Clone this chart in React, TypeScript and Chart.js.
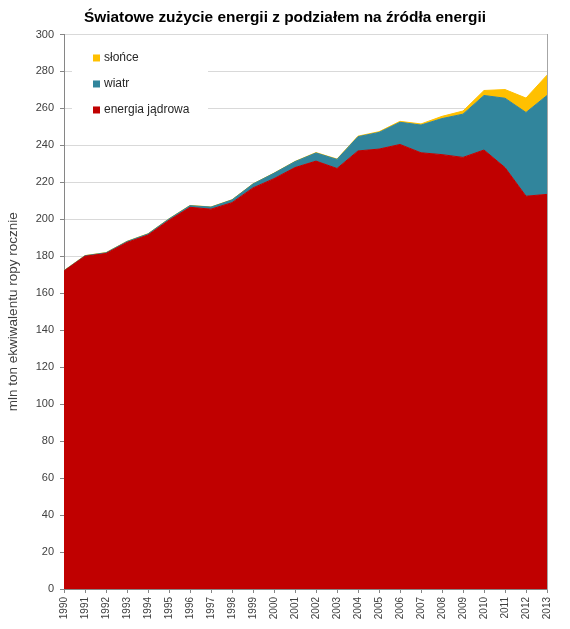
import React, { useEffect, useRef } from "react";
import { Chart, registerables } from "chart.js";

Chart.register(...registerables);

const years = [
  "1990", "1991", "1992", "1993", "1994", "1995", "1996", "1997",
  "1998", "1999", "2000", "2001", "2002", "2003", "2004", "2005",
  "2006", "2007", "2008", "2009", "2010", "2011", "2012", "2013",
];

// mln toe per year
const nuclear = [
  172, 180, 181.5, 187.5, 191.5, 199.5, 206.5, 205.5, 209, 217, 222, 228,
  231.5, 227.5, 237, 238, 240.5, 236, 235, 233.5, 237.5, 228, 212.5, 213.5,
];
const wind = [
  0.2, 0.3, 0.4, 0.5, 0.6, 0.7, 0.9, 1.1, 1.5, 2.1, 2.9, 3.2,
  4.4, 4.9, 7.7, 9, 12, 15, 19.5, 23.4, 29.5, 37.5, 45.3, 53.5,
];
const solar = [
  0.1, 0.1, 0.1, 0.1, 0.1, 0.1, 0.1, 0.1, 0.1, 0.1, 0.1, 0.1,
  0.2, 0.2, 0.3, 0.4, 0.5, 0.6, 1.2, 1.7, 2.7, 4.7, 7.8, 11,
];

const FONT = "Arial, 'Liberation Sans', sans-serif";
const RED = "#C00000";
const TEAL = "#31859C";
const YELLOW = "#FFC000";
const TEXT = "#404040";

// legend inside the plot, top-left, on a white box
const insideLegend = {
  id: "insideLegend",
  afterDatasetsDraw(chart: any) {
    const ctx = chart.ctx;
    const { left, top } = chart.chartArea;
    ctx.save();
    ctx.fillStyle = "#FFFFFF";
    ctx.fillRect(left + 8, top + 8, 136, 80);
    const items = [...chart.data.datasets].reverse();
    ctx.font = `12px ${FONT}`;
    ctx.textBaseline = "middle";
    items.forEach((ds: any, i: number) => {
      const y = top + 23 + i * 26;
      ctx.fillStyle = ds.backgroundColor;
      ctx.fillRect(left + 29, y - 3, 7, 7);
      ctx.fillStyle = "#262626";
      ctx.fillText(ds.label, left + 40, y);
    });
    ctx.restore();
  },
};

const App: React.FC = () => {
  const chartRef = useRef<HTMLCanvasElement | null>(null);

  useEffect(() => {
    if (!chartRef.current) return;
    const chart = new Chart(chartRef.current, {
      type: "line",
      data: {
        labels: years,
        datasets: [
          {
            label: "energia jądrowa",
            data: nuclear,
            borderColor: RED,
            backgroundColor: RED,
            fill: "origin",
          },
          {
            label: "wiatr",
            data: wind,
            borderColor: TEAL,
            backgroundColor: TEAL,
            fill: "-1",
          },
          {
            label: "słońce",
            data: solar,
            borderColor: YELLOW,
            backgroundColor: YELLOW,
            fill: "-1",
          },
        ],
      },
      options: {
        animation: false,
        responsive: true,
        maintainAspectRatio: false,
        layout: { padding: 0 },
        elements: {
          point: { radius: 0, hoverRadius: 0 },
          line: { tension: 0, borderWidth: 1 },
        },
        plugins: {
          legend: { display: false },
          tooltip: { enabled: false },
          title: {
            display: true,
            text: "Światowe zużycie energii z podziałem na źródła energii",
            color: "#000000",
            font: { family: FONT, size: 15.4, weight: "bold" },
            padding: { top: 9, bottom: 7 },
          },
        },
        scales: {
          x: {
            offset: false,
            grid: {
              drawOnChartArea: false,
              tickLength: 4,
              tickColor: "#868686",
              offset: false,
            },
            border: { color: "#868686" },
            ticks: {
              autoSkip: false,
              minRotation: 90,
              maxRotation: 90,
              padding: 4,
              color: TEXT,
              font: { family: FONT, size: 10 },
            },
            afterFit: (scale: any) => {
              scale.height = 40;
            },
          },
          y: {
            stacked: true,
            min: 0,
            max: 300,
            grid: {
              color: "#D9D9D9",
              tickLength: 4,
              tickColor: "#868686",
            },
            border: { color: "#868686" },
            ticks: {
              stepSize: 20,
              padding: 6,
              color: TEXT,
              font: { family: FONT, size: 11 },
            },
            title: {
              display: true,
              text: "mln ton ekwiwalentu ropy rocznie",
              color: TEXT,
              font: { family: FONT, size: 13.5 },
              padding: { top: 5, bottom: 0 },
            },
            afterFit: (scale: any) => {
              scale.width = 64;
            },
          },
          // plot-area border on the right, no ticks
          yRight: {
            position: "right",
            min: 0,
            max: 300,
            grid: { display: false, drawTicks: false },
            border: { display: true, color: "#A6A6A6" },
            ticks: { display: false },
            afterFit: (scale: any) => {
              scale.width = 23;
            },
          },
        },
      },
      plugins: [insideLegend],
    });

    return () => {
      chart.destroy();
    };
  }, []);

  return (
    <div style={{ position: "fixed", left: 0, top: 0, width: 570, height: 629 }}>
      <canvas ref={chartRef} />
    </div>
  );
};

export default App;
